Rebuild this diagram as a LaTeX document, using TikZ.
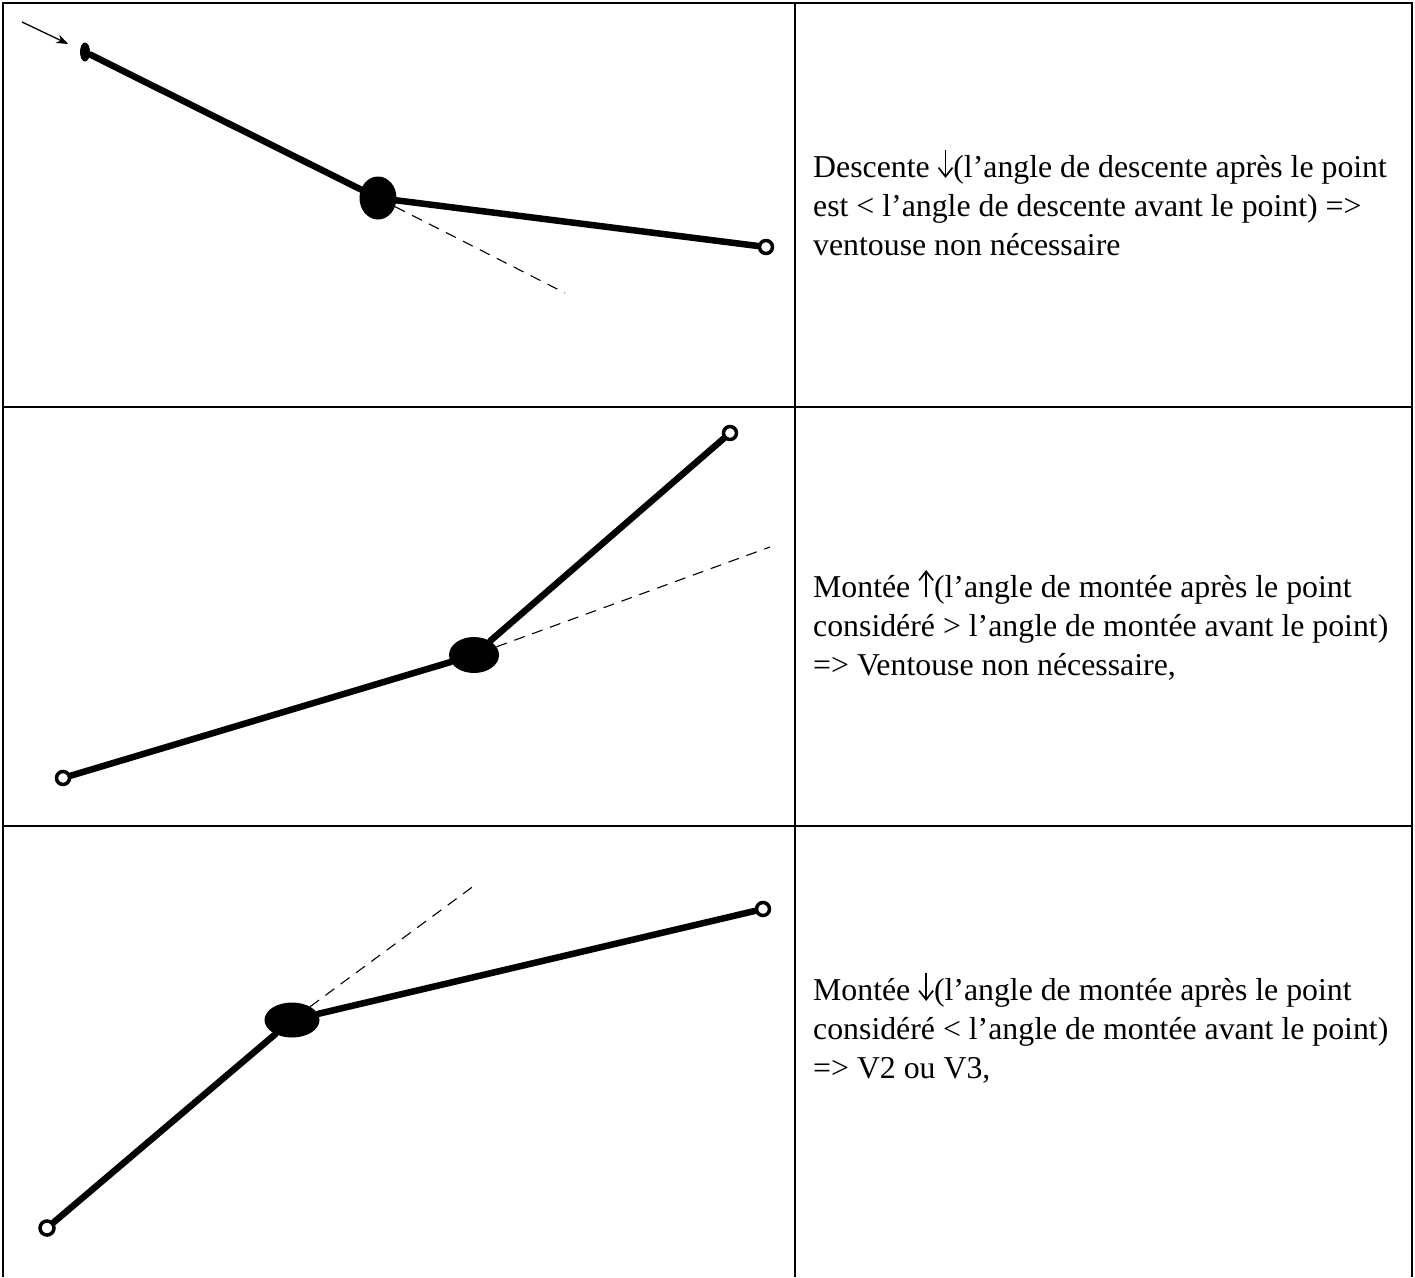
\documentclass[tikz,border=0pt]{standalone}
\usepackage{fontspec}
\setmainfont{Liberation Serif}
\usetikzlibrary{arrows.meta,shapes.geometric,positioning}

\tikzset{
  grille/.style={line width=2pt},
  trait/.style={line width=6.5pt,line cap=round},
  prolong/.style={line width=1.1pt,dash pattern=on 11pt off 8pt},
  bout/.style={circle,draw,fill=white,line width=3.5pt,minimum size=13pt,inner sep=0pt},
  pointrond/.style={ellipse,fill,inner sep=0pt},
  fleche/.style={line width=1.3pt,-{Stealth[length=12pt,width=9pt]}},
  ligne/.style={anchor=base west,inner sep=0pt,font=\fontsize{31.8}{39}\selectfont},
}
\newcommand{\flechebas}{\tikz[baseline=0pt]\draw[line width=1.7pt,-{Straight Barb[length=9pt,width=14pt]}] (0pt,27pt) -- (0pt,-1pt);}
\newcommand{\flechehaut}{\tikz[baseline=0pt]\draw[line width=1.7pt,-{Straight Barb[length=9pt,width=14pt]}] (0pt,0pt) -- (0pt,27pt);}

\begin{document}
\begin{tikzpicture}[x=1pt,y=-1pt]
  \useasboundingbox (0,0) rectangle (1415,1277);
  % tableau
  \draw[grille] (3,1277) -- (3,3) -- (1412,3) -- (1412,1277);
  \draw[grille] (795,3) -- (795,1277);
  \draw[grille] (3,407) -- (1412,407);
  \draw[grille] (3,826) -- (1412,826);

  % descente
  \coordinate (f1) at (22,22);
  \node[pointrond,minimum width=10pt,minimum height=19pt] (a1) at (85,52) {};
  \node[pointrond,minimum width=37pt,minimum height=43pt] (p1) at (378,198) {};
  \node[bout] (b1) at (766,247) {};
  \coordinate (q1) at (565,293);
  \draw[fleche,shorten >=13pt] (f1) -- (a1);
  \draw[trait] (a1) -- (p1) -- (b1);
  \draw[prolong] (p1) -- (q1);
  \node[ligne] (t1a) at (813,177) {Descente \flechebas(l’angle de descente après le point};
  \node[ligne] (t1b) at ([yshift=-39pt]t1a.base west) {est < l’angle de descente avant le point) =>};
  \node[ligne] (t1c) at ([yshift=-39pt]t1b.base west) {ventouse non nécessaire};

  % montee, angle plus fort
  \node[bout] (a2) at (63,778) {};
  \node[pointrond,minimum width=50pt,minimum height=36pt] (p2) at (474,655) {};
  \node[bout] (b2) at (730,433) {};
  \coordinate (q2) at (770,547);
  \draw[trait] (a2) -- (p2) -- (b2);
  \draw[prolong] (p2) -- (q2);
  \node[ligne] (t2a) at (813,597) {Montée \flechehaut(l’angle de montée après le point};
  \node[ligne] (t2b) at ([yshift=-39pt]t2a.base west) {considéré > l’angle de montée avant le point)};
  \node[ligne] (t2c) at ([yshift=-39pt]t2b.base west) {=> Ventouse non nécessaire,};

  % montee, angle plus faible
  \node[bout,minimum size=14pt] (a3) at (47,1228) {};
  \node[pointrond,minimum width=55pt,minimum height=35pt] (p3) at (292,1020) {};
  \node[bout] (b3) at (763,909) {};
  \coordinate (q3) at (475,885);
  \draw[trait] (a3) -- (p3) -- (b3);
  \draw[prolong] (p3) -- (q3);
  \node[ligne] (t3a) at (813,1000) {Montée \flechebas(l’angle de montée après le point};
  \node[ligne] (t3b) at ([yshift=-39pt]t3a.base west) {considéré < l’angle de montée avant le point)};
  \node[ligne] (t3c) at ([yshift=-39pt]t3b.base west) {=> V2 ou V3,};
\end{tikzpicture}
\end{document}
